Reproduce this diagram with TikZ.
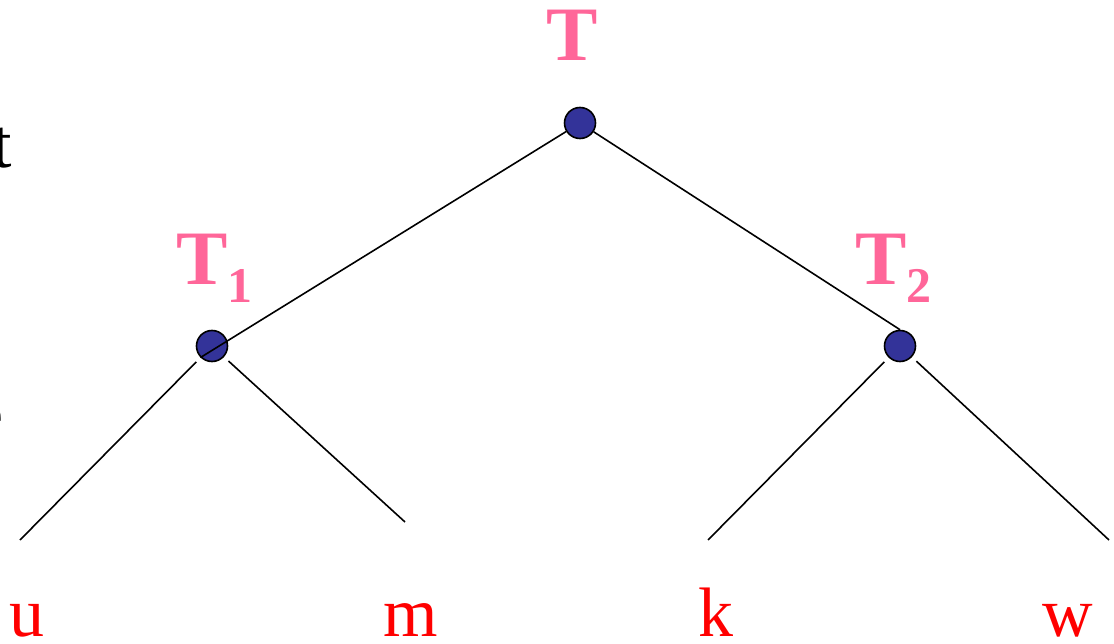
\documentclass[tikz,border=0pt]{standalone}
\usepackage{fontspec}
\setmainfont{Liberation Serif}
\usetikzlibrary{positioning}
\definecolor{labelpink}{RGB}{255,102,153}
\definecolor{vertexblue}{RGB}{51,51,153}
\newcommand{\sublabel}[1]{T\raisebox{-18pt}{\fontsize{50}{50}\selectfont #1}}

\begin{document}
\begin{tikzpicture}[
    x=1pt, y=-1pt,
    vertex/.style={circle, draw, line width=1.6pt, fill=vertexblue, minimum size=31pt, inner sep=0pt},
    tlabel/.style={text=labelpink, font=\fontsize{77}{77}\selectfont\bfseries, inner sep=0pt},
    leaf/.style={text=red, font=\fontsize{70}{70}\selectfont, inner sep=0pt, anchor=base},
    cut/.style={font=\fontsize{70}{70}\selectfont, inner sep=0pt, anchor=base east},
    edge/.style={line width=1.6pt},
    branch/.style={edge, shorten <=6pt}
]
    \useasboundingbox (0,0) rectangle (1114,644);

    % text cut off at the left margin
    \begin{scope}
        \clip (0,0) rectangle (1114,644);
        \node[cut] (cutt) at (12,168) {t};
        \node[cut] (cute) at (4,437) {e};
    \end{scope}

    \node[vertex] (root) at (580,123) {};
    \node[vertex] (t1) at (212,346) {};
    \node[vertex] (t2) at (900,346) {};

    \node[tlabel, anchor=base] (rootlab) at (572,61) {T};
    \node[tlabel, anchor=base west] (t1lab) at (176,285) {\sublabel{1}};
    \node[tlabel, anchor=base west] (t2lab) at (855,285) {\sublabel{2}};

    \node[leaf] (u) at (27,636) {u};
    \node[leaf] (m) at (411,636) {m};
    \node[leaf] (k) at (716,636) {k};
    \node[leaf] (w) at (1068,636) {w};

    \coordinate (uend) at (20,540);
    \coordinate (mend) at (405,522);
    \coordinate (kend) at (708,540);
    \coordinate (wend) at (1109,540);

    \draw[edge] (root) -- (t1.south west);
    \draw[edge] (root) -- (t2.north);
    \draw[branch] (t1) -- (uend);
    \draw[branch] (t1) -- (mend);
    \draw[branch] (t2) -- (kend);
    \draw[branch] (t2) -- (wend);
\end{tikzpicture}
\end{document}
